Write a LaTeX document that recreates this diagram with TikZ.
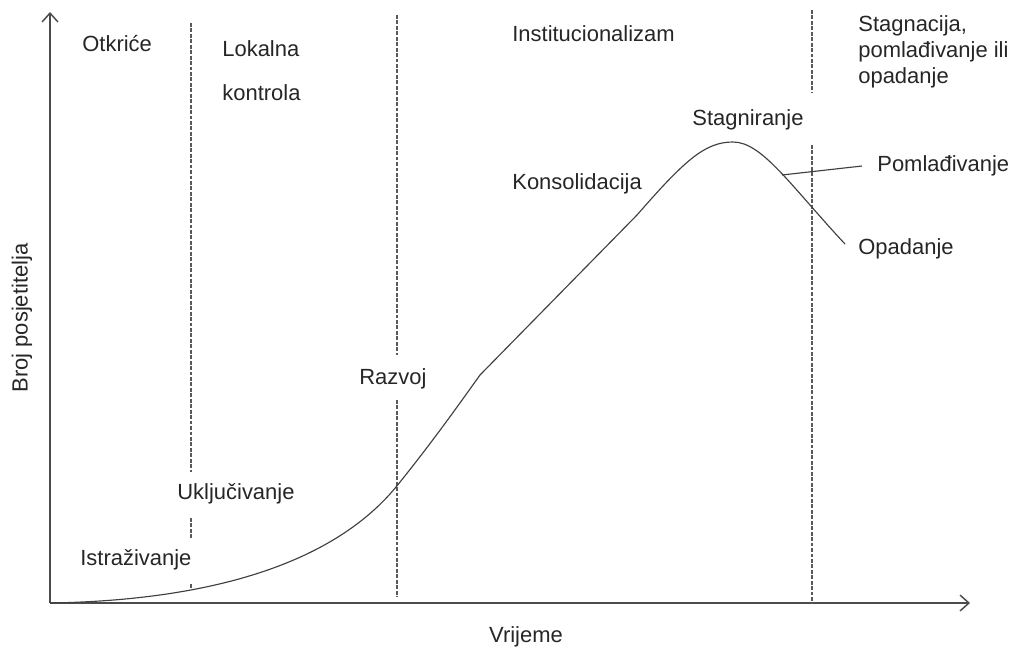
\documentclass[tikz,border=0pt]{standalone}
\usepackage{fontspec}
\setmainfont{Liberation Sans}
\usetikzlibrary{arrows.meta}
\begin{document}
\begin{tikzpicture}[x=0.02cm,y=-0.02cm,
  lbl/.style={font=\fontsize{12.5}{15}\selectfont, text=black!85, inner sep=0pt},
  axis/.style={draw=black!70, line width=0.85pt, -{Straight Barb[length=5pt,width=9pt,line width=0.85pt]}},
  phase/.style={draw=black!65, line width=1pt, dash pattern=on 2.2pt off 0.9pt},
  curve/.style={draw=black!75, line width=0.65pt}]
\useasboundingbox (0,0) rectangle (1027,650);
% axes
\coordinate (O) at (50,603);
\coordinate (Ytop) at (50,12);
\coordinate (Xend) at (970,603);
\draw[axis] (O) -- (Ytop);
\draw[axis] (O) -- (Xend);
% labels
\node[lbl, anchor=base west] (otk) at (82,51) {Otkriće};
\node[lbl, anchor=north west, align=left] (lok) at (222,40) {Lokalna\\[10pt]kontrola};
\node[lbl, anchor=base west] (inst) at (512,41) {Institucionalizam};
\node[lbl, anchor=north west, align=left] (stag) at (858,15) {Stagnacija,\\pomlađivanje ili\\opadanje};
\node[lbl, anchor=base] (stg) at (748,125) {Stagniranje};
\node[lbl, anchor=base west] (pom) at (877,171) {Pomlađivanje};
\node[lbl, anchor=base west] (opa) at (858,254) {Opadanje};
\node[lbl, anchor=base west] (kon) at (512,189) {Konsolidacija};
\node[lbl, anchor=base west] (raz) at (359,384) {Razvoj};
\node[lbl, anchor=base west] (ukl) at (177,499) {Uključivanje};
\node[lbl, anchor=base west] (ist) at (80,565) {Istraživanje};
\node[lbl] (vri) at (526,637) {Vrijeme};
\node[lbl, rotate=90] (broj) at (22,318) {Broj posjetitelja};
% phase boundaries
\coordinate (a1) at (191,23);  \coordinate (a2) at (191,472);
\coordinate (a3) at (191,518); \coordinate (a4) at (191,538);
\coordinate (a5) at (191,584); \coordinate (a6) at (191,588);
\draw[phase] (a1) -- (a2);
\draw[phase] (a3) -- (a4);
\draw[phase] (a5) -- (a6);
\coordinate (b1) at (397,15);  \coordinate (b2) at (397,355);
\coordinate (b3) at (397,400); \coordinate (b4) at (397,597);
\draw[phase] (b1) -- (b2);
\draw[phase] (b3) -- (b4);
\coordinate (c1) at (812,10);  \coordinate (c2) at (812,93);
\coordinate (c3) at (812,145); \coordinate (c4) at (812,603);
\draw[phase] (c1) -- (c2);
\draw[phase] (c3) -- (c4);
% life cycle curve
\draw[curve] (O) .. controls (230,600) and (340,555) .. (396,487)
  .. controls (430,445) and (455,410) .. (480,375)
  -- (637,215)
  .. controls (685,160) and (705,142) .. (733,142)
  .. controls (762,142) and (790,185) .. (845,244);
% leader
\coordinate (pomc) at (782,175);
\coordinate (pomend) at (862,166);
\draw[curve] (pomc) -- (pomend);
\end{tikzpicture}
\end{document}
